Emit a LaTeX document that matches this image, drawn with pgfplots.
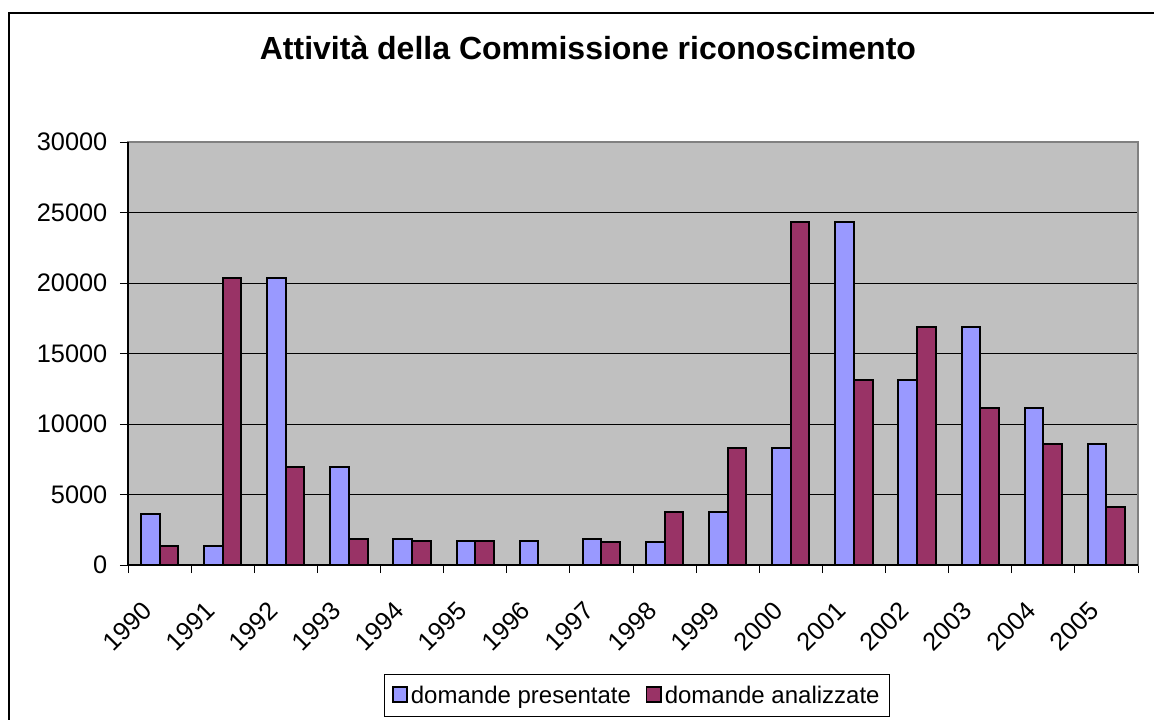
\documentclass[border=0pt]{standalone}
\usepackage{fontspec}
\setmainfont{Liberation Sans}
\usepackage{pgfplots}
\pgfplotsset{compat=1.18}
\definecolor{pres}{HTML}{9999FF}
\definecolor{anal}{HTML}{993366}
\definecolor{plotbg}{HTML}{C0C0C0}
\begin{document}
\begin{tikzpicture}
\path[use as bounding box] (0pt,0pt) rectangle (865.5pt,539.25pt);
\draw[line width=1.1pt] (6.75pt,-5pt) -- (6.75pt,529.5pt) -- (870pt,529.5pt);
\begin{axis}[
  at={(96pt,115.5pt)}, anchor=south west,
  scale only axis, width=757.5pt, height=317.25pt,
  ybar=0pt, bar width=14pt,
  xmin=-0.5, xmax=15.5, ymin=0, ymax=30000,
  xtick={0,...,15},
  xticklabels={1990,1991,1992,1993,1994,1995,1996,1997,1998,1999,2000,2001,2002,2003,2004,2005},
  minor xtick={-0.5,0.5,...,15.5},
  ytick={0,5000,...,30000},
  scaled y ticks=false,
  /pgf/number format/assume math mode=true,
  yticklabel style={/pgf/number format/1000 sep={}, font=\fontsize{19}{21}\selectfont, xshift=-6pt},
  x tick label style={rotate=45, anchor=north east, font=\fontsize{19}{21}\selectfont, xshift=-21pt, yshift=-1pt},
  tick pos=left,
  tick align=outside,
  major tick length=6pt, minor tick length=6pt,
  xtick style={draw=none},
  minor x tick style={draw=black, line width=0.75pt},
  ytick style={draw=black, line width=0.75pt},
  ymajorgrids, major grid style={black, line width=0.75pt},
  axis line style={draw=gray, line width=1pt},
  axis background/.style={fill=plotbg},
  after end axis/.code={\draw[black,line width=1pt] (rel axis cs:0,1) -- (rel axis cs:0,0) -- (rel axis cs:1,0);},
  title={Attività della Commissione riconoscimento},
  title style={at={(0.4554,1.175)}, anchor=base, font=\bfseries\fontsize{24}{28}\selectfont},
  legend style={at={(0.504,-0.359)}, anchor=south, legend columns=2, draw=black, line width=0.75pt,
    font=\fontsize{18}{20}\selectfont, inner xsep=5.5pt, inner ysep=6.5pt,
    /tikz/every even column/.append style={column sep=9pt},
    /tikz/every odd column/.append style={column sep=0pt}},
  legend image code/.code={\draw[#1, line width=1.3pt] (-1pt,-5pt) rectangle (10pt,6pt);},
  every axis plot/.append style={draw=black, line width=1.5pt},
]
\addplot[fill=pres] coordinates {(0,3590) (1,1330) (2,20380) (3,6960) (4,1850) (5,1730) (6,1730) (7,1850) (8,1620) (9,3750) (10,8270) (11,24300) (12,13140) (13,16890) (14,11160) (15,8570)};
\addplot[fill=anal] coordinates {(0,1330) (1,20380) (2,6960) (3,1850) (4,1730) (5,1730) (7,1620) (8,3750) (9,8270) (10,24300) (11,13140) (12,16890) (13,11160) (14,8570) (15,4110)};
\legend{domande presentate, domande analizzate}
\end{axis}
\end{tikzpicture}
\end{document}
